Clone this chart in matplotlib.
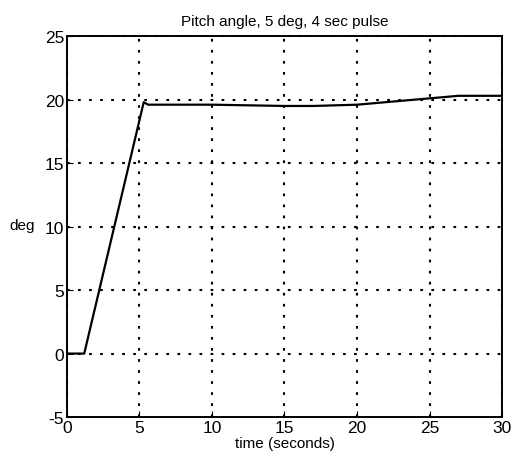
import matplotlib
matplotlib.use("Agg")
import matplotlib.pyplot as plt

plt.rcParams["font.family"] = ["Liberation Sans", "DejaVu Sans"]
plt.rcParams["axes.unicode_minus"] = False

# pitch angle response
t = [0, 1.2, 5.3, 5.6, 10, 15, 17, 20, 22, 25, 27, 30]
pitch = [0, 0, 19.8, 19.6, 19.6, 19.5, 19.5, 19.6, 19.8, 20.1, 20.3, 20.3]

xticks = [0, 5, 10, 15, 20, 25, 30]
yticks = [-5, 0, 5, 10, 15, 20, 25]

fig = plt.figure(figsize=(5.14, 4.64), dpi=100)
ax = fig.add_axes([0.130, 0.099, 0.847, 0.821])

ax.plot(t, pitch, color="black", lw=1.6)

ax.set_xlim(0, 30)
ax.set_ylim(-5, 25)
ax.set_xticks(xticks)
ax.set_yticks(yticks)
ax.grid(True, color="black", linestyle=(0, (1.3, 4)), linewidth=1.5)
ax.tick_params(direction="in", length=4, labelsize=12.5, colors="black", pad=2)
for sp in ax.spines.values():
    sp.set_linewidth(1.4)
    sp.set_color("black")

ax.set_title("Pitch angle, 5 deg, 4 sec pulse", fontsize=11, pad=8)
ax.set_xlabel("time (seconds)", fontsize=11, labelpad=1)
ax.set_ylabel("deg", fontsize=11, rotation=0, ha="center", va="center")
ax.yaxis.set_label_coords(-0.103, 0.505)

fig.savefig("out.png", dpi=100)
